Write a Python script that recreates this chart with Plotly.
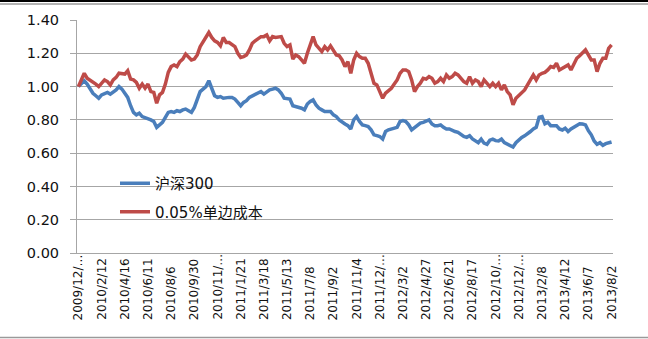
import plotly.graph_objects as go

# Weekly net value series (start = 1.00)
hs300 = [
    1.00, 1.02, 1.035, 1.015, 0.985, 0.96, 0.945, 0.93, 0.95, 0.96,
    0.965, 0.955, 0.965, 0.98, 1.00, 0.985, 0.96, 0.935, 0.885, 0.845,
    0.83, 0.84, 0.82, 0.815, 0.81, 0.80, 0.79, 0.755, 0.77, 0.785,
    0.815, 0.845, 0.85, 0.845, 0.855, 0.85, 0.86, 0.865, 0.855, 0.845,
    0.875, 0.925, 0.97, 0.985, 1.00, 1.035, 0.985, 0.945, 0.935, 0.94,
    0.93, 0.935, 0.935, 0.935, 0.925, 0.905, 0.885, 0.905, 0.915, 0.935,
    0.945, 0.95, 0.965, 0.97, 0.955, 0.97, 0.98, 0.985, 0.99, 0.98,
    0.96, 0.93, 0.93, 0.925, 0.885, 0.88, 0.88, 0.87, 0.86, 0.895,
    0.91, 0.92, 0.89, 0.87, 0.86, 0.85, 0.85, 0.85, 0.83, 0.82,
    0.80, 0.785, 0.775, 0.765, 0.745, 0.80, 0.82, 0.79, 0.77, 0.765,
    0.76, 0.74, 0.71, 0.705, 0.70, 0.685, 0.73, 0.74, 0.745, 0.75,
    0.755, 0.79, 0.795, 0.79, 0.77, 0.74, 0.755, 0.77, 0.78, 0.785,
    0.795, 0.80, 0.775, 0.765, 0.765, 0.77, 0.755, 0.745, 0.745, 0.735,
    0.73, 0.725, 0.71, 0.70, 0.695, 0.705, 0.685, 0.675, 0.663, 0.684,
    0.66, 0.653, 0.678, 0.684, 0.675, 0.673, 0.684, 0.663, 0.653, 0.645,
    0.637, 0.663, 0.68, 0.694, 0.704, 0.714, 0.73, 0.745, 0.755, 0.816,
    0.82, 0.776, 0.786, 0.765, 0.765, 0.765, 0.745, 0.739, 0.75, 0.73,
    0.745, 0.755, 0.765, 0.776, 0.775, 0.77, 0.735, 0.71, 0.673, 0.653,
    0.663, 0.647, 0.657, 0.663, 0.667,
]

cost_005 = [
    1.00, 1.04, 1.08, 1.05, 1.04, 1.03, 1.015, 1.00, 1.02, 1.04,
    1.03, 1.01, 1.04, 1.055, 1.08, 1.08, 1.075, 1.095, 1.045, 1.04,
    1.025, 0.99, 1.015, 0.99, 1.015, 0.97, 0.965, 0.90, 0.95, 0.965,
    1.015, 1.085, 1.12, 1.13, 1.12, 1.15, 1.165, 1.195, 1.175, 1.16,
    1.165, 1.19, 1.24, 1.27, 1.30, 1.325, 1.295, 1.275, 1.265, 1.245,
    1.295, 1.265, 1.265, 1.255, 1.24, 1.20, 1.175, 1.18, 1.19, 1.22,
    1.26, 1.275, 1.29, 1.30, 1.30, 1.31, 1.275, 1.30, 1.295, 1.295,
    1.30, 1.26, 1.24, 1.25, 1.165, 1.19, 1.18, 1.16, 1.14, 1.20,
    1.25, 1.30, 1.25, 1.23, 1.21, 1.24, 1.22, 1.245, 1.215, 1.19,
    1.185, 1.16, 1.12, 1.15, 1.08, 1.16, 1.20, 1.18, 1.17, 1.17,
    1.14, 1.08, 1.02, 1.01, 0.97, 0.93, 0.96, 0.975, 0.99, 1.015,
    1.04, 1.08, 1.10, 1.10, 1.09, 1.04, 0.97, 1.00, 1.02, 1.05,
    1.045, 1.06, 1.05, 1.02, 1.03, 1.05, 1.03, 1.07, 1.05, 1.06,
    1.08, 1.07, 1.05, 1.03, 1.02, 1.06, 1.02, 1.04, 1.03, 1.00,
    1.04, 1.02, 1.00, 1.02, 1.00, 1.02, 0.98, 1.01, 0.97, 0.95,
    0.89, 0.93, 0.945, 0.96, 0.98, 1.01, 1.04, 1.07, 1.04, 1.07,
    1.08, 1.085, 1.10, 1.12, 1.115, 1.14, 1.10, 1.11, 1.12, 1.13,
    1.10, 1.14, 1.17, 1.185, 1.20, 1.22, 1.19, 1.16, 1.16, 1.09,
    1.14, 1.17, 1.17, 1.23, 1.25,
]

# Category labels shown every 8 weeks
tick_labels = [
    "2009/12/…", "2010/2/12", "2010/4/16", "2010/6/11", "2010/8/6",
    "2010/9/30", "2010/11/…", "2011/1/21", "2011/3/18", "2011/5/13",
    "2011/7/8", "2011/9/2", "2011/11/4", "2011/12/…", "2012/3/2",
    "2012/4/27", "2012/6/21", "2012/8/17", "2012/10/…", "2012/12/…",
    "2013/2/8", "2013/4/12", "2013/6/7", "2013/8/2",
]
label_step = 8

series_names = ["沪深300", "0.05%单边成本"]
series_colors = ["#4A7EBB", "#BE4B48"]

W, H = 648, 339
ML, MR, MT, MB = 77, 35, 20, 86
PW, PH = W - ML - MR, H - MT - MB

weeks = list(range(len(hs300)))

fig = go.Figure()
for i, (name, vals, col) in enumerate(zip(series_names, [hs300, cost_005], series_colors)):
    fig.add_trace(go.Scatter(
        x=weeks, y=vals, mode="lines", name=name,
        line=dict(color=col, width=3.5),
        legendgroup=f"g{i}",
    ))

grid = "#A6A6A6"
fig.update_layout(
    width=W, height=H,
    margin=dict(l=ML, r=MR, t=MT, b=MB),
    paper_bgcolor="white", plot_bgcolor="white",
    font=dict(family="DejaVu Sans, Noto Sans CJK SC", color="#111111"),
    showlegend=True,
    legend=dict(
        x=(115 - ML) / PW, y=(H - MB - 167) / PH,
        xanchor="left", yanchor="top",
        bgcolor="rgba(0,0,0,0)",
        font=dict(size=15, family="DejaVu Sans, Noto Sans CJK SC", color="#111111"),
        tracegroupgap=6,
    ),
    xaxis=dict(
        range=[-0.5, len(hs300) - 0.5],
        showticklabels=False, showgrid=False, zeroline=False,
        showline=True, linecolor=grid, linewidth=1, ticks="",
    ),
    yaxis=dict(
        range=[0, 1.4], dtick=0.2, tickformat=".2f",
        showgrid=True, gridcolor=grid, gridwidth=1,
        zeroline=False, showline=True, linecolor=grid, linewidth=1,
        ticks="outside", ticklen=6, tickcolor=grid,
        ticklabelstandoff=8,
        tickfont=dict(size=14.5, family="DejaVu Sans", color="#111111"),
    ),
)

# Rotated category labels, aligned along their starting edge
label_bottom = H - 17
for k, txt in enumerate(tick_labels):
    fig.add_annotation(
        x=k * label_step, xref="x",
        y=(H - MB - label_bottom) / PH, yref="paper",
        text=txt, textangle=-90, showarrow=False,
        xanchor="center", yanchor="bottom",
        font=dict(size=12, family="DejaVu Sans", color="#111111"),
    )

# Frame rules across the top and bottom of the page
def px_x(v):
    return (v - ML) / PW

def px_y(v):
    return (H - MB - v) / PH

fig.add_shape(type="line", xref="paper", yref="paper",
              x0=px_x(0), x1=px_x(W), y0=px_y(1), y1=px_y(1),
              line=dict(color="black", width=2))
fig.add_shape(type="line", xref="paper", yref="paper",
              x0=px_x(0), x1=px_x(W), y0=px_y(4), y1=px_y(4),
              line=dict(color="#9A9A9A", width=1.5))
fig.add_shape(type="line", xref="paper", yref="paper",
              x0=px_x(0), x1=px_x(W), y0=px_y(337.5), y1=px_y(337.5),
              line=dict(color="#9A9A9A", width=1.5))

fig.write_html("out.html")
